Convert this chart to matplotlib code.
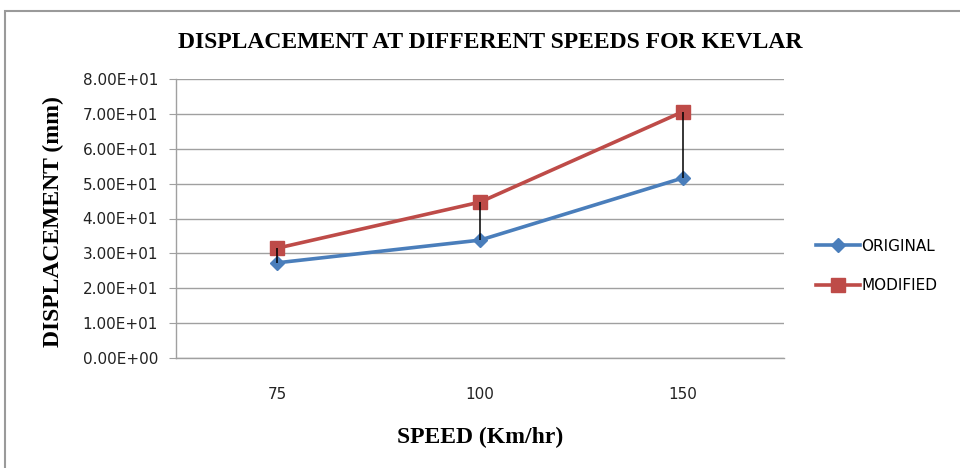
import numpy as np
import matplotlib.pyplot as plt
from matplotlib.patches import Rectangle

speeds = ['75', '100', '150']
original = [27.3, 33.8, 51.6]
modified = [31.5, 44.7, 70.6]
yticks = [0, 10, 20, 30, 40, 50, 60, 70, 80]

blue = '#4A7EBB'
red = '#BE4B48'
grey = '#A0A0A0'

fig = plt.figure(figsize=(9.6, 4.68), dpi=100)
ax = fig.add_axes([176/960, 1-358/468, 608/960, 279/468])

x = np.arange(len(speeds))

# drop lines between the two series
ax.vlines(x, original, modified, color='black', linewidth=1.1, zorder=4)

ax.plot(x, original, color=blue, linewidth=2.6, marker='D', markersize=7,
        label='ORIGINAL', zorder=3)
ax.plot(x, modified, color=red, linewidth=2.6, marker='s', markersize=9.5,
        label='MODIFIED', zorder=3)

ax.set_xlim(-0.5, len(speeds) - 0.5)
ax.set_ylim(0, 80)
ax.set_yticks(yticks)
ax.set_yticklabels(['%.2fE+01' % (v / 10) if v else '0.00E+00' for v in yticks])
ax.set_xticks(x)
ax.set_xticklabels(speeds)

ax.grid(axis='y', color=grey, linewidth=1.0)
ax.set_axisbelow(True)
for s in ['top', 'right']:
    ax.spines[s].set_visible(False)
for s in ['left', 'bottom']:
    ax.spines[s].set_color(grey)
    ax.spines[s].set_linewidth(1.0)

ax.tick_params(axis='y', length=5, color=grey, labelsize=11, pad=8, labelcolor='#222222')
ax.tick_params(axis='x', length=0, labelsize=11, pad=21, labelcolor='#222222')

serif = 'Liberation Serif'
fig.text(490/960, 1-42/468, 'DISPLACEMENT AT DIFFERENT SPEEDS FOR KEVLAR',
         ha='center', va='center', fontsize=17, fontweight='bold', family=serif)
fig.text(480/960, 1-437/468, 'SPEED (Km/hr)', ha='center', va='center',
         fontsize=17, fontweight='bold', family=serif)
fig.text(53/960, 1-222/468, 'DISPLACEMENT (mm)', ha='center', va='center',
         rotation=90, fontsize=17, fontweight='bold', family=serif)

ax.legend(loc='center left', bbox_to_anchor=(802/960, 1-266/468),
          bbox_transform=fig.transFigure, frameon=False, fontsize=11,
          handlelength=2.9, handletextpad=0.1, labelspacing=1.6)

# outer chart frame
fig.patches.append(Rectangle((5/960, -0.1), 1.0, 1 - 11/468 + 0.1,
                             transform=fig.transFigure, fill=False,
                             edgecolor='#9A9A9A', linewidth=1.5))

fig.savefig('out.png', dpi=100)
